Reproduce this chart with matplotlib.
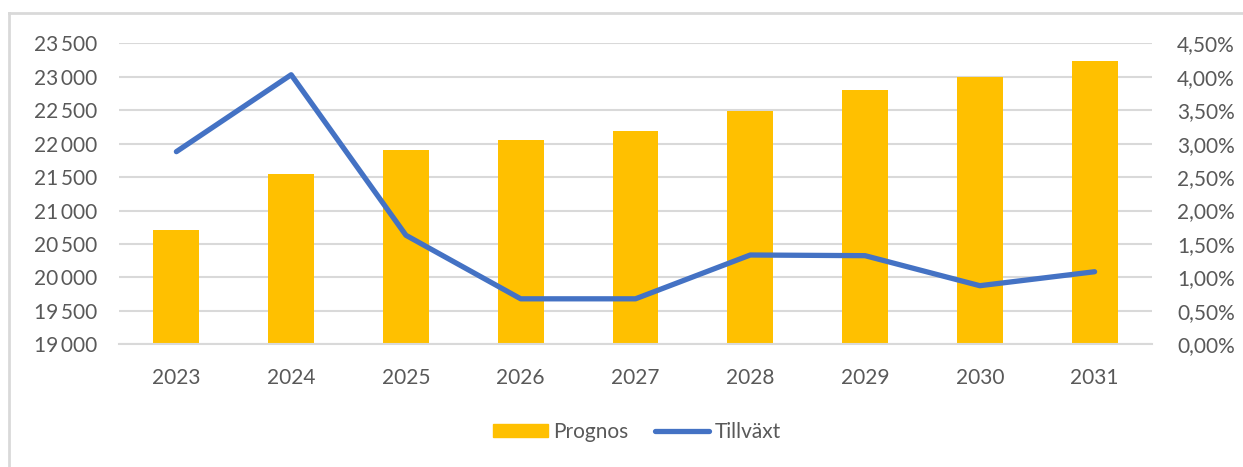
import matplotlib
matplotlib.use("Agg")
import matplotlib.pyplot as plt
from matplotlib.ticker import FuncFormatter, FixedLocator
from matplotlib.lines import Line2D

years = ["2023", "2024", "2025", "2026", "2027", "2028", "2029", "2030", "2031"]
prognos = [20710, 21545, 21900, 22050, 22190, 22490, 22800, 23000, 23235]
tillvaxt = [2.88, 4.03, 1.63, 0.68, 0.68, 1.335, 1.325, 0.876, 1.085]

left_ticks = [19000, 19500, 20000, 20500, 21000, 21500, 22000, 22500, 23000, 23500]
right_ticks = [0, 0.5, 1.0, 1.5, 2.0, 2.5, 3.0, 3.5, 4.0, 4.5]

plt.rcParams['font.family'] = ['Lato', 'DejaVu Sans']
txt = '#595959'
grid_c = '#d9d9d9'
bar_c = '#FFC000'
line_c = '#4472C4'
fs = 15

fig = plt.figure(figsize=(12.43, 4.67), dpi=100)
ax = fig.add_axes([119/1243, 1-344.3/467, (1152-119)/1243, (344.3-43.3)/467])
ax2 = ax.twinx()

x = list(range(len(years)))
ax.bar(x, [p - 19000 for p in prognos], bottom=19000, width=0.4, color=bar_c, zorder=2, label='Prognos')
ax.set_ylim(19000, 23500)
ax.set_xlim(-0.5, len(years) - 0.5)
ax.yaxis.set_major_locator(FixedLocator(left_ticks))
ax.yaxis.set_major_formatter(FuncFormatter(lambda v, p: f"{int(v):,}".replace(",", "\u2009")))
ax.set_xticks(x)
ax.set_xticklabels(years)
ax.grid(axis='y', color=grid_c, linewidth=1.5, zorder=0)
ax.set_axisbelow(True)

ax2.plot(x, tillvaxt, color=line_c, linewidth=3.8, solid_capstyle='round', solid_joinstyle='round', zorder=3)
ax2.set_ylim(0, 4.5)
ax2.yaxis.set_major_locator(FixedLocator(right_ticks))
ax2.yaxis.set_major_formatter(FuncFormatter(lambda v, p: f"{v:.2f}".replace(".", ",") + "%"))

for a in (ax, ax2):
    for s in a.spines.values():
        s.set_visible(False)
    a.tick_params(length=0, labelsize=fs, labelcolor=txt)
ax.tick_params(axis='y', pad=16)
ax.tick_params(axis='x', pad=17)
ax2.tick_params(axis='y', pad=18)
ax.spines['bottom'].set_visible(True)
ax.spines['bottom'].set_color(grid_c)
ax.spines['bottom'].set_linewidth(1.5)

# chart border (left and top visible)
fig.add_artist(Line2D([9/1243, 9/1243], [0, 1-13/467], transform=fig.transFigure, color='#d9d9d9', linewidth=2))
fig.add_artist(Line2D([9/1243, 1], [1-13/467, 1-13/467], transform=fig.transFigure, color='#d9d9d9', linewidth=2))

handles = [plt.Rectangle((0, 0), 1, 1, color=bar_c),
           Line2D([0], [0], color=line_c, linewidth=3.8, solid_capstyle='round')]
fig.legend(handles, ['Prognos', 'Tillväxt'], loc='center', bbox_to_anchor=(637/1243, 1-432/467),
           ncol=2, frameon=False, fontsize=fs, labelcolor=txt, handlelength=2.6,
           handletextpad=0.25, columnspacing=1.3, handleheight=0.55)

fig.savefig('out.png', dpi=100)
